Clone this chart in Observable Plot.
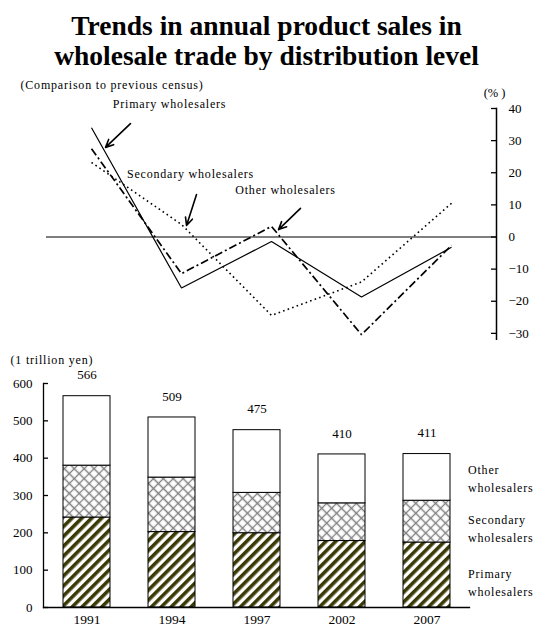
<!DOCTYPE html>
<html><head><meta charset="utf-8">
<script src="https://cdn.jsdelivr.net/npm/d3@7"></script>
<script src="https://cdn.jsdelivr.net/npm/@observablehq/plot@0.6"></script>
<style>
body{margin:0;background:#fff;}
#wrap{position:relative;width:533px;height:628px;font-family:"Liberation Serif","Times New Roman",serif;color:#000;}
#title{position:absolute;left:0;top:11px;width:533px;text-align:center;font-weight:bold;font-size:27.5px;line-height:30px;}
#top{position:absolute;left:0;top:70px;}
#bottom{position:absolute;left:0;top:340px;}
</style></head>
<body>
<div id="wrap">
<div id="title">Trends in annual product sales in<br>wholesale trade by distribution level</div>
<div id="top"></div>
<div id="bottom"></div>
</div>
<script>
// ---- data ----
const years = ["1991", "1994", "1997", "2002", "2007"];
const primaryChange = [34.0, -15.9, -1.4, -18.7, -3.2];
const secondaryChange = [23.2, 3.9, -24.4, -14.0, 10.5];
const otherChange = [27.5, -11.4, 3.3, -30.4, -2.6];
const primarySales = [241, 202, 199, 178, 174];
const secondarySales = [139, 146, 108, 101, 112];
const otherSales = [186, 161, 168, 131, 125];
const totals = [566, 509, 475, 410, 411];
const changeTicks = [-40, -30, -20, -10, 0, 10, 20, 30, 40];
const salesTicks = [0, 100, 200, 300, 400, 500, 600];
const levelNames = ["Primary wholesalers", "Secondary wholesalers", "Other wholesalers"];
const legendLabels = ["Primary\nwholesalers", "Secondary\nwholesalers", "Other\nwholesalers"];

// annotation placement (index units along x, percent along y)
const annotations = [
  {label: "Primary wholesalers", lx: 0.867, ly: 41.2, anchor: "middle", tx: 0.433, ty: 35.3, hx: 0.156, hy: 27.9},
  {label: "Secondary wholesalers", lx: 1.1, ly: 19.5, anchor: "start", tx: 1.167, ty: 13.2, hx: 1.056, hy: 3.6},
  {label: "Other wholesalers", lx: 2.156, ly: 14.5, anchor: "start", tx: 2.322, ty: 8.9, hx: 2.078, hy: 2.3}
];

const serif = '"Liberation Serif", "Times New Roman", serif';

// ---- line chart ----
const seriesStyles = [
  {values: primaryChange, dash: null, width: 1.2},
  {values: secondaryChange, dash: "1.6,3.2", width: 1.6},
  {values: otherChange, dash: "8,3,2,3", width: 1.7}
];
const lineMarks = seriesStyles.map((s, k) =>
  Plot.line(s.values.map((v, i) => ({i, value: v, series: levelNames[k]})), {
    x: "i", y: "value", stroke: "black", strokeWidth: s.width,
    strokeDasharray: s.dash, strokeLinejoin: "miter", strokeLinecap: "butt"
  })
);

const topPlot = Plot.plot({
  width: 533, height: 305,
  marginTop: 38, marginBottom: 10, marginLeft: 46, marginRight: 37,
  style: {fontFamily: serif, background: "white", color: "black", overflow: "visible"},
  x: {domain: [-0.5, 4.5], axis: null},
  y: {domain: [-40, 40]},
  marks: [
    Plot.ruleY([0], {stroke: "black", strokeWidth: 1.2}),
    Plot.frame({anchor: "right", stroke: "black", strokeWidth: 1.5}),
    Plot.axisY(changeTicks, {anchor: "right", tickSize: 6, dx: -6, tickPadding: 12, fontSize: 13, label: null, strokeWidth: 1.3}),
    ...lineMarks,
    Plot.arrow(annotations, {x1: "tx", y1: "ty", x2: "hx", y2: "hy", stroke: "black", strokeWidth: 1.6, headLength: 8, headAngle: 50}),
    Plot.text(annotations, {x: "lx", y: "ly", text: "label", textAnchor: d => d.anchor, fontSize: 12}),
    Plot.text(["(Comparison to previous census)"], {frameAnchor: "top-left", dx: -26, dy: -28, textAnchor: "start", fontSize: 12}),
    Plot.text(["(% )"], {frameAnchor: "top-right", dx: 9, dy: -20, fontSize: 12.5})
  ]
});

// ---- bar chart ----
const barData = years.flatMap((y, i) => [
  {year: y, level: levelNames[0], value: primarySales[i]},
  {year: y, level: levelNames[1], value: secondarySales[i]},
  {year: y, level: levelNames[2], value: otherSales[i]}
]);
const fills = {
  "Primary wholesalers": "url(#stripes)",
  "Secondary wholesalers": "url(#cross)",
  "Other wholesalers": "white"
};
const totalData = years.map((y, i) => ({year: y, total: totals[i]}));
const lastIdx = years.length - 1;
const lastStack = [primarySales[lastIdx], secondarySales[lastIdx], otherSales[lastIdx]];
const legendData = legendLabels.map((t, k) => {
  const below = d3.sum(lastStack.slice(0, k));
  return {year: years[lastIdx], mid: below + lastStack[k] / 2, text: t, k};
});

const defsMark = () => {
  const ns = "http://www.w3.org/2000/svg";
  const defs = document.createElementNS(ns, "defs");
  defs.innerHTML = `
    <pattern id="stripes" patternUnits="userSpaceOnUse" width="7" height="7" patternTransform="rotate(45)">
      <rect width="7" height="7" fill="white"/>
      <rect x="0" width="3.6" height="7" fill="#3b3a06"/>
    </pattern>
    <pattern id="cross" patternUnits="userSpaceOnUse" width="7" height="7" patternTransform="rotate(45)">
      <rect width="7" height="7" fill="white"/>
      <path d="M3.5,0V7M0,3.5H7" stroke="#808080" stroke-width="1.3" fill="none"/>
    </pattern>`;
  return defs;
};

const bottomPlot = Plot.plot({
  width: 533, height: 288,
  marginTop: 43, marginBottom: 21, marginLeft: 43, marginRight: 64,
  style: {fontFamily: serif, background: "white", color: "black", overflow: "visible"},
  x: {domain: years, paddingInner: 0.45, paddingOuter: 0.22},
  y: {domain: [0, 600]},
  color: {type: "identity"},
  marks: [
    defsMark,
    Plot.barY(barData, {x: "year", y: "value", z: "level", fill: d => fills[d.level], stroke: "black", strokeWidth: 1}),
    Plot.frame({anchor: "left", stroke: "black", strokeWidth: 1.3}),
    Plot.frame({anchor: "bottom", stroke: "black", strokeWidth: 1.3}),
    Plot.axisY(salesTicks, {anchor: "left", tickSize: 5, dx: 5, tickPadding: 11, fontSize: 13, label: null, strokeWidth: 1.3}),
    Plot.axisX({anchor: "bottom", tickSize: 0, tickPadding: 7, fontSize: 13.5, label: null}),
    Plot.text(totalData, {x: "year", y: "total", text: d => String(d.total), dy: -21, fontSize: 13}),
    Plot.text(legendData.filter(d => d.k < 2), {x: "year", y: "mid", text: "text", dx: 41, dy: 6, textAnchor: "start", lineHeight: 1.5, fontSize: 12}),
    Plot.text(legendData.filter(d => d.k === 2), {x: "year", y: "mid", text: "text", dx: 41, dy: 0, textAnchor: "start", lineHeight: 1.5, fontSize: 12}),
    Plot.text(["(1 trillion yen)"], {frameAnchor: "top-left", dx: -33, dy: -28, textAnchor: "start", fontSize: 12})
  ]
});

document.getElementById("top").append(topPlot);
document.getElementById("bottom").append(bottomPlot);

// letter-spacing for word labels
for (const svg of [topPlot, bottomPlot]) {
  d3.select(svg).selectAll("text")
    .filter(function() { return /[a-z]/i.test(this.textContent); })
    .attr("letter-spacing", "0.8");
}
</script>
</body></html>
